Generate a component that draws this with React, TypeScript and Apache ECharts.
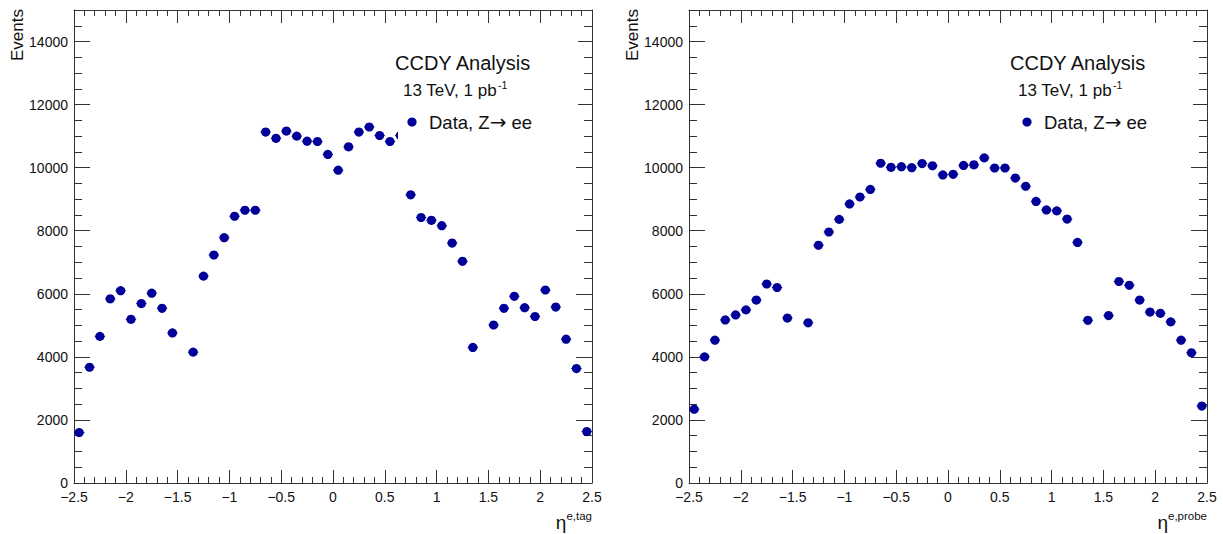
import React, { useEffect, useRef } from "react";
import * as echarts from "echarts";

// Bin centres of eta (bin width 0.1)
const etaBins = [
  -2.45, -2.35, -2.25, -2.15, -2.05, -1.95, -1.85, -1.75, -1.65, -1.55,
  -1.45, -1.35, -1.25, -1.15, -1.05, -0.95, -0.85, -0.75, -0.65, -0.55,
  -0.45, -0.35, -0.25, -0.15, -0.05, 0.05, 0.15, 0.25, 0.35, 0.45,
  0.55, 0.65, 0.75, 0.85, 0.95, 1.05, 1.15, 1.25, 1.35, 1.45,
  1.55, 1.65, 1.75, 1.85, 1.95, 2.05, 2.15, 2.25, 2.35, 2.45,
];

// Events per bin, tag electron (crack bins empty)
const tagEvents = [
  1600, 3670, 4650, 5840, 6100, 5190, 5690, 6020, 5540, 4760,
  null, 4150, 6560, 7230, 7780, 8460, 8650, 8650, 11130, 10930,
  11160, 11000, 10840, 10830, 10420, 9920, 10660, 11130, 11290, 11020,
  10830, 11020, 9140, 8420, 8330, 8160, 7610, 7030, 4300, null,
  5010, 5540, 5920, 5560, 5280, 6120, 5580, 4560, 3630, 1630,
];

// Events per bin, probe electron
const probeEvents = [
  2340, 4000, 4530, 5170, 5330, 5490, 5800, 6310, 6200, 5230,
  null, 5080, 7540, 7960, 8360, 8850, 9070, 9310, 10140, 10010,
  10030, 10000, 10130, 10060, 9770, 9790, 10070, 10090, 10310, 9990,
  9990, 9670, 9410, 8930, 8660, 8630, 8370, 7630, 5160, null,
  5310, 6390, 6270, 5800, 5420, 5380, 5110, 4530, 4130, 2440,
];

const xTitleSups = ["e,tag", "e,probe"];
const yTitle = "Events";
const analysisTitle = "CCDY Analysis";
const lumiMain = "13 TeV, 1 pb";
const lumiSup = "-1";
const legendPre = "Data, Z";
const legendArrow = "\u2192";
const legendPost = " ee";

const BIN_HALF = 0.05;
const COLOR = "#000099";
const FONT = '"Liberation Sans", Arial, Helvetica, sans-serif';
const AXIS_COLOR = "#333";

function fmtX(v: number) {
  const s = String(Math.round(v * 10) / 10);
  return s.replace("-", "\u2212");
}

function renderPoint(params: any, api: any) {
  const x = api.value(0);
  const y = api.value(1);
  const c = api.coord([x, y]);
  const l = api.coord([x - BIN_HALF, y]);
  const r = api.coord([x + BIN_HALF, y]);
  const e = Math.sqrt(y);
  const t = api.coord([x, y + e]);
  const b = api.coord([x, y - e]);
  return {
    type: "group",
    children: [
      { type: "line", shape: { x1: l[0], y1: c[1], x2: r[0], y2: c[1] }, style: { stroke: COLOR, lineWidth: 1 } },
      { type: "line", shape: { x1: c[0], y1: t[1], x2: c[0], y2: b[1] }, style: { stroke: COLOR, lineWidth: 1 } },
      { type: "circle", shape: { cx: c[0], cy: c[1], r: 4.6 }, style: { fill: COLOR } },
    ],
  };
}

export default function App() {
  const ref = useRef<HTMLDivElement>(null);
  useEffect(() => {
    if (!ref.current) return;
    const chart = echarts.init(ref.current, undefined, { renderer: "svg" });
    const panels = [tagEvents, probeEvents];
    const gridLefts = [74, 689];
    const grids = gridLefts.map((left) => ({ left, top: 10, width: 518, height: 473 }));

    const xAxes: any[] = [];
    const yAxes: any[] = [];
    gridLefts.forEach((_, gi) => {
      ["bottom", "top"].forEach((pos) => {
        xAxes.push({
          type: "value",
          gridIndex: gi,
          position: pos,
          min: -2.5,
          max: 2.5,
          interval: 0.5,
          axisLine: { show: true, onZero: false, lineStyle: { color: AXIS_COLOR, width: 1 } },
          axisTick: { show: true, inside: true, length: 13, lineStyle: { color: AXIS_COLOR } },
          minorTick: { show: true, splitNumber: 5, length: 6, lineStyle: { color: AXIS_COLOR } },
          splitLine: { show: false },
          axisLabel: {
            show: pos === "bottom",
            formatter: fmtX,
            fontFamily: FONT,
            fontSize: 14,
            lineHeight: 14,
            color: "#111",
            margin: 7,
          },
        });
      });
      ["left", "right"].forEach((pos) => {
        // major ticks
        yAxes.push({
          type: "value",
          gridIndex: gi,
          position: pos,
          min: 0,
          max: 15000,
          interval: 2000,
          axisLine: { show: true, onZero: false, lineStyle: { color: AXIS_COLOR, width: 1 } },
          axisTick: { show: true, inside: true, length: 16, lineStyle: { color: AXIS_COLOR } },
          splitLine: { show: false },
          axisLabel: {
            show: pos === "left",
            showMaxLabel: false,
            formatter: (v: number) => String(v),
            fontFamily: FONT,
            fontSize: 14,
            lineHeight: 14,
            color: "#111",
            margin: 6,
          },
        });
        // minor ticks
        yAxes.push({
          type: "value",
          gridIndex: gi,
          position: pos,
          min: 0,
          max: 15000,
          interval: 500,
          axisLine: { show: false, onZero: false },
          axisTick: { show: true, inside: true, length: 8, lineStyle: { color: AXIS_COLOR } },
          splitLine: { show: false },
          axisLabel: { show: false },
        });
      });
    });

    const series = panels.map((vals, gi) => ({
      type: "custom",
      name: "Data",
      xAxisIndex: gi * 2,
      yAxisIndex: gi * 4,
      renderItem: renderPoint,
      clip: false,
      data: etaBins
        .map((x, i) => [x, vals[i]])
        .filter((d) => d[1] !== null),
      z: 5,
    }));

    const graphics: any[] = [];
    gridLefts.forEach((gl, gi) => {
      const dx = gl - 74;
      graphics.push(
        {
          type: "rect",
          z: 50,
          shape: { x: 398 + dx, y: 40, width: 180, height: 104 },
          style: { fill: "#fff" },
        },
        {
          type: "text",
          z: 60,
          x: 395 + dx,
          y: 63,
          style: { text: analysisTitle, font: `20px ${FONT}`, fill: "#111", align: "left", verticalAlign: "middle" },
        },
        {
          type: "text",
          z: 60,
          x: 403 + dx,
          y: 90,
          style: {
            text: `{m|${lumiMain}}{s|${lumiSup}}`,
            align: "left",
            verticalAlign: "middle",
            fill: "#111",
            rich: {
              m: { fontFamily: FONT, fontSize: 17, lineHeight: 22, fill: "#111" },
              s: { fontFamily: FONT, fontSize: 10.5, lineHeight: 22, verticalAlign: "top", fill: "#111", padding: [0, 0, 6, 1] },
            },
          },
        },
        {
          type: "circle",
          z: 60,
          shape: { cx: 412 + dx, cy: 122, r: 4.6 },
          style: { fill: COLOR },
        },
        {
          type: "text",
          z: 60,
          x: 429 + dx,
          y: 122,
          style: {
            text: `{t|${legendPre}}{a|${legendArrow}}{t|${legendPost}}`,
            align: "left",
            verticalAlign: "middle",
            fill: "#111",
            rich: {
              t: { fontFamily: FONT, fontSize: 18.5, lineHeight: 22, fill: "#111" },
              a: { fontFamily: '"DejaVu Sans", sans-serif', fontSize: 20, lineHeight: 22, fill: "#111" },
            },
          },
        },
        {
          type: "text",
          z: 60,
          x: 17 + dx,
          y: 9,
          rotation: Math.PI / 2,
          style: { text: yTitle, font: `17px ${FONT}`, fill: "#111", align: "right", verticalAlign: "middle" },
        },
        {
          type: "text",
          z: 60,
          x: 592 + dx,
          y: 534,
          style: {
            text: `{e|\u03b7}{s|${xTitleSups[gi]}}`,
            align: "right",
            verticalAlign: "bottom",
            fill: "#111",
            rich: {
              e: { fontFamily: FONT, fontSize: 19, lineHeight: 24, fill: "#111" },
              s: { fontFamily: FONT, fontSize: 11.5, lineHeight: 24, verticalAlign: "top", fill: "#111", padding: [0, 0, 8, 0] },
            },
          },
        }
      );
    });

    chart.setOption({
      animation: false,
      backgroundColor: "#fff",
      grid: grids,
      xAxis: xAxes,
      yAxis: yAxes,
      series,
      graphic: graphics,
    });
    return () => chart.dispose();
  }, []);
  return <div ref={ref} style={{ position: "fixed", left: 0, top: 0, width: 1223, height: 534 }} />;
}
